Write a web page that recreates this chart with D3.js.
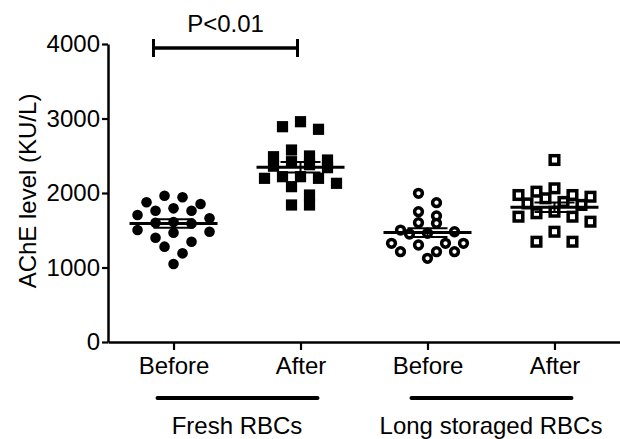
<!DOCTYPE html>
<html>
<head>
<meta charset="utf-8">
<script src="https://cdn.jsdelivr.net/npm/d3@7"></script>
<style>
  body { margin: 0; background: #fff; }
  text { font-family: "Liberation Sans", Arial, sans-serif; fill: #000; }
</style>
</head>
<body>
<div id="chart"></div>
<script>
// ---- data ----
var categories = ["Before", "After", "Before", "After"];
var groupLabels = ["Fresh RBCs", "Long storaged RBCs"];
var yTicks = [0, 1000, 2000, 3000, 4000];
var pLabel = "P<0.01";

var freshBefore = [1964, 1942, 1875, 1852, 1794, 1762, 1762, 1705, 1660, 1610,
                   1600, 1590, 1503, 1480, 1467, 1400, 1346, 1280, 1190, 1047];
var freshAfter = [2957, 2890, 2855, 2577, 2497, 2487, 2443, 2420, 2380, 2360,
                  2340, 2219, 2219, 2197, 2197, 2130, 2085, 1973, 1839, 1839];
var storedBefore = [1996, 1870, 1749, 1691, 1601, 1593, 1503, 1480, 1460, 1450,
                    1325, 1325, 1325, 1302, 1212, 1212, 1212, 1123];
var storedAfter = [2443, 2063, 2018, 1973, 1973, 1950, 1929, 1880, 1860, 1840,
                   1749, 1728, 1682, 1682, 1615, 1480, 1346, 1346];

var columns = [freshBefore, freshAfter, storedBefore, storedAfter];
var shapes = ["filledCircle", "filledSquare", "openCircle", "openSquare"];

// ---- layout ----
var width = 620, height = 439;
var fontSize = 24;

var svg = d3.select("#chart")
    .append("svg")
    .attr("width", width)
    .attr("height", height);

var x = d3.scalePoint()
    .domain(d3.range(categories.length))
    .range([108, 620])
    .padding(0.516);

var y = d3.scaleLinear()
    .domain([0, 4000])
    .range([342, 44]);

// y axis
var yAxis = svg.append("g")
    .attr("transform", "translate(108,0)")
    .call(d3.axisLeft(y).tickValues(yTicks).tickSize(6).tickSizeOuter(0).tickPadding(2)
        .tickFormat(d3.format("d")));
yAxis.select(".domain").attr("stroke", "#000").attr("stroke-width", 2.5);
yAxis.selectAll(".tick line").attr("stroke", "#000").attr("stroke-width", 2.2);
yAxis.selectAll(".tick text")
    .attr("font-size", fontSize)
    .attr("font-family", "Liberation Sans, Arial, sans-serif")
    .attr("fill", "#000");

// x axis
var xAxis = svg.append("g")
    .attr("transform", "translate(0,342)")
    .call(d3.axisBottom(x).tickSize(8).tickSizeOuter(0).tickPadding(7)
        .tickFormat(function (i) { return categories[i]; }));
xAxis.select(".domain").attr("stroke", "#000").attr("stroke-width", 2.5);
xAxis.selectAll(".tick line").attr("stroke", "#000").attr("stroke-width", 2.2);
xAxis.selectAll(".tick text")
    .attr("font-size", fontSize)
    .attr("font-family", "Liberation Sans, Arial, sans-serif")
    .attr("fill", "#000");

// y axis title
svg.append("text")
    .attr("transform", "translate(36,191) rotate(-90)")
    .attr("text-anchor", "middle")
    .attr("font-size", fontSize)
    .text("AChE level (KU/L)");

// group underlines and labels
groupLabels.forEach(function (label, g) {
    var x0 = x(g * 2), x1 = x(g * 2 + 1);
    svg.append("line")
        .attr("x1", x0 - 16).attr("x2", x1 + 17)
        .attr("y1", 398).attr("y2", 398)
        .attr("stroke", "#000")
        .attr("stroke-width", 4)
        .attr("stroke-linecap", "round");
    svg.append("text")
        .attr("x", (x0 + x1) / 2)
        .attr("y", 434)
        .attr("text-anchor", "middle")
        .attr("font-size", fontSize)
        .text(label);
});

// significance bracket
var bx0 = x(0) - 20, bx1 = x(1) - 3, by = 48;
svg.append("line")
    .attr("x1", bx0).attr("x2", bx1).attr("y1", by).attr("y2", by)
    .attr("stroke", "#000").attr("stroke-width", 3.5);
[bx0, bx1].forEach(function (bx) {
    svg.append("line")
        .attr("x1", bx).attr("x2", bx).attr("y1", by - 9).attr("y2", by + 9)
        .attr("stroke", "#000").attr("stroke-width", 3);
});
svg.append("text")
    .attr("x", (bx0 + bx1) / 2)
    .attr("y", 32)
    .attr("text-anchor", "middle")
    .attr("font-size", fontSize)
    .text(pLabel);

// column scatter (Prism style): points close in value share a row
// and are spread sideways, centred on the column
var step = 18, rowH = 10.5, maxPerRow = 5;
function swarm(values, cx) {
    var sorted = values.slice().sort(function (a, b) { return b - a; });
    var rows = [], row = null;
    sorted.forEach(function (v) {
        var py = y(v);
        if (!row || py - row.start > rowH || row.pts.length >= maxPerRow) {
            row = { start: py, pts: [] };
            rows.push(row);
        }
        row.pts.push(py);
    });
    var out = [];
    rows.forEach(function (r) {
        var n = r.pts.length;
        // fill from the middle outwards, alternating sides
        var slots = d3.range(n).map(function (k) { return (k - (n - 1) / 2) * step; })
            .sort(function (a, b) { return Math.abs(a) - Math.abs(b) || a - b; });
        r.pts.forEach(function (py, k) {
            out.push({ x: cx + slots[k], y: py });
        });
    });
    return out;
}

columns.forEach(function (values, i) {
    var cx = x(i);
    var g = svg.append("g");
    var pts = swarm(values, cx);
    var shape = shapes[i];

    if (shape === "filledCircle") {
        g.selectAll("circle").data(pts).enter().append("circle")
            .attr("cx", function (d) { return d.x; })
            .attr("cy", function (d) { return d.y; })
            .attr("r", 5.3).attr("fill", "#000");
    } else if (shape === "openCircle") {
        g.selectAll("circle").data(pts).enter().append("circle")
            .attr("cx", function (d) { return d.x; })
            .attr("cy", function (d) { return d.y; })
            .attr("r", 3.9).attr("fill", "#fff")
            .attr("stroke", "#000").attr("stroke-width", 3.5);
    } else if (shape === "filledSquare") {
        g.selectAll("rect").data(pts).enter().append("rect")
            .attr("x", function (d) { return d.x - 5.6; })
            .attr("y", function (d) { return d.y - 5.6; })
            .attr("width", 11.2).attr("height", 11.2).attr("fill", "#000");
    } else {
        g.selectAll("rect").data(pts).enter().append("rect")
            .attr("x", function (d) { return d.x - 4.3; })
            .attr("y", function (d) { return d.y - 4.3; })
            .attr("width", 8.6).attr("height", 8.6).attr("fill", "#fff")
            .attr("stroke", "#000").attr("stroke-width", 3.5);
    }

    // mean with SEM
    var m = d3.mean(values);
    var sem = d3.deviation(values) / Math.sqrt(values.length);
    var lines = [
        [cx - 44, m, cx + 44, m],
        [cx - 20, m + sem, cx + 20, m + sem],
        [cx - 20, m - sem, cx + 20, m - sem],
        [cx, m - sem, cx, m + sem]
    ];
    g.selectAll("line.stat").data(lines).enter().append("line")
        .attr("class", "stat")
        .attr("x1", function (d) { return d[0]; })
        .attr("y1", function (d) { return y(d[1]); })
        .attr("x2", function (d) { return d[2]; })
        .attr("y2", function (d) { return y(d[3]); })
        .attr("stroke", "#000")
        .attr("stroke-width", function (d, k) { return k === 0 ? 3 : 2; });
});
</script>
</body>
</html>
